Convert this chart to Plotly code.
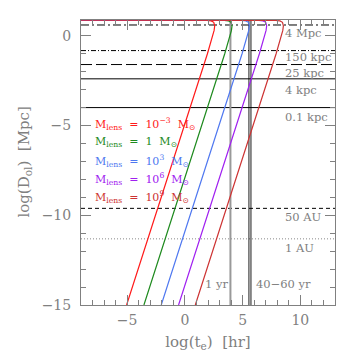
import plotly.graph_objects as go

# ---- data ----
log_D_curve = [-15, -5, -1, 0.3, 0.56, 0.75, 0.83, 0.855, 0.865, 0.865]
log_t_m3 = [-5.05, -0.05, 1.95, 2.53, 2.58, 2.50, 2.28, 1.91, 0.0, -9.0]
log_t_m0 = [-3.55, 1.45, 3.45, 4.03, 4.08, 4.00, 3.78, 3.41, 0.0, -9.0]
log_t_m3p = [-2.05, 2.95, 4.95, 5.53, 5.58, 5.50, 5.28, 4.91, 0.0, -9.0]
log_t_m6 = [-0.55, 4.45, 6.45, 7.03, 7.08, 7.00, 6.78, 6.41, 0.0, -9.0]
log_t_m9 = [0.90, 5.90, 7.90, 8.48, 8.53, 8.45, 8.23, 7.86, 0.0, -9.0]
curves = [log_t_m3, log_t_m0, log_t_m3p, log_t_m6, log_t_m9]
mass_labels = ["10<sup>−3</sup>", "1", "10<sup>3</sup>", "10<sup>6</sup>", "10<sup>9</sup>"]
curve_colors = ["#ff1a1a", "#1e8a1e", "#4f78f0", "#a020f0", "#cd3333"]
legend_y = [-4.9, -5.92, -6.95, -7.97, -8.98]

ref_logD = [0.602, -0.824, -1.602, -2.398, -4.0, -9.615, -11.314]
ref_labels = ["4 Mpc", "150 kpc", "25 kpc", "4 kpc", "0.1 kpc", "50 AU", "1 AU"]
ref_label_y = [0.18, -1.2, -2.1, -3.0, -4.54, -10.1, -11.83]
ref_dash = ["8px,3px,2px,3px", "5px,2px,1px,2px", "11px,4px", "solid", "solid", "4px,3px", "1px,2px"]
ref_color = ["#000", "#000", "#000", "#000", "#000", "#000", "#888"]

time_logt = [3.943, 5.545, 5.721]
time_color = ["#999", "#000", "#000"]
time_width = [2, 0.9, 0.9]
time_labels = ["1 yr", "40−60 yr"]
time_label_x = [2.77, 8.55]
time_label_y = [-13.83, -13.83]

XR = [-9, 13]
YR = [-15, 0.88]
GRAY = "#808080"
FONT = "DejaVu Serif"

fig = go.Figure()

for t, c in zip(curves, curve_colors):
    fig.add_trace(go.Scatter(x=t, y=log_D_curve, mode="lines",
                             line=dict(color=c, width=1.2), showlegend=False,
                             hoverinfo="skip"))

# invisible trace for overlay axes
fig.add_trace(go.Scatter(x=[XR[0]], y=[YR[0]], xaxis="x2", yaxis="y2",
                         mode="markers", marker=dict(opacity=0), showlegend=False,
                         hoverinfo="skip"))

shapes = []
for yv, d, c in zip(ref_logD, ref_dash, ref_color):
    shapes.append(dict(type="line", xref="x domain", yref="y", x0=0, x1=1,
                       y0=yv, y1=yv, layer="below", line=dict(color=c, width=1, dash=d)))
for xv, c, w in zip(time_logt, time_color, time_width):
    shapes.append(dict(type="line", xref="x", yref="y domain", x0=xv, x1=xv,
                       y0=0, y1=1, layer="below", line=dict(color=c, width=w)))

annotations = []
for lab, yv in zip(ref_labels, ref_label_y):
    annotations.append(dict(x=8.5, y=yv, xref="x", yref="y", text=lab,
                            showarrow=False, xanchor="left", yanchor="middle",
                            font=dict(family=FONT, size=11.5, color=GRAY)))
for lab, xv, yv in zip(time_labels, time_label_x, time_label_y):
    annotations.append(dict(x=xv, y=yv, xref="x", yref="y", text=lab,
                            showarrow=False, xanchor="center", yanchor="middle",
                            font=dict(family=FONT, size=11.5, color=GRAY)))
nb = "\u00a0"
for m, c, yv in zip(mass_labels, curve_colors, legend_y):
    txt = f"M<sub>lens</sub>{nb}{nb}={nb}{nb}{m}{nb}{nb}M<sub>⊙</sub>"
    annotations.append(dict(x=-8.0, y=yv, xref="x", yref="y", text=txt,
                            showarrow=False, xanchor="left", yanchor="middle",
                            font=dict(family=FONT, size=11, color=c)))
# y-axis title as rotated annotation
annotations.append(dict(x=-0.224, y=0.5, xref="x domain", yref="y domain",
                        text="log(D<sub>ol</sub>)  [Mpc]", textangle=-90,
                        showarrow=False, xanchor="center", yanchor="middle",
                        font=dict(family=FONT, size=15, color=GRAY)))

axis_common = dict(showline=True, linecolor=GRAY, linewidth=1, ticks="inside",
                   tickcolor=GRAY, ticklen=10, tickwidth=1, showgrid=False,
                   zeroline=False, dtick=5, tick0=0, automargin=False,
                   minor=dict(dtick=1, ticklen=5, ticks="inside", tickcolor=GRAY, showgrid=False),
                   tickfont=dict(family=FONT, size=14, color=GRAY))
axis_plain = {k: v for k, v in axis_common.items() if k != "tickfont"}

# page body adds 8 px offset; margins compensate
fig.update_layout(
    width=346, height=346,
    margin=dict(l=73, r=19, t=11.5, b=49, autoexpand=False),
    paper_bgcolor="white", plot_bgcolor="white",
    showlegend=False,
    xaxis=dict(range=XR, **axis_common,
               title=dict(text="log(t<sub>e</sub>)  [hr]", standoff=9,
                          font=dict(family=FONT, size=15, color=GRAY)),
               ticklabelstandoff=2),
    yaxis=dict(range=YR, **axis_common, ticklabelstandoff=6),
    xaxis2=dict(range=XR, overlaying="x", side="top", anchor="y",
                showticklabels=False, **axis_plain),
    yaxis2=dict(range=YR, overlaying="y", side="right", anchor="x",
                showticklabels=False, **axis_plain),
    shapes=shapes,
    annotations=annotations,
)

fig.write_html("out.html")
